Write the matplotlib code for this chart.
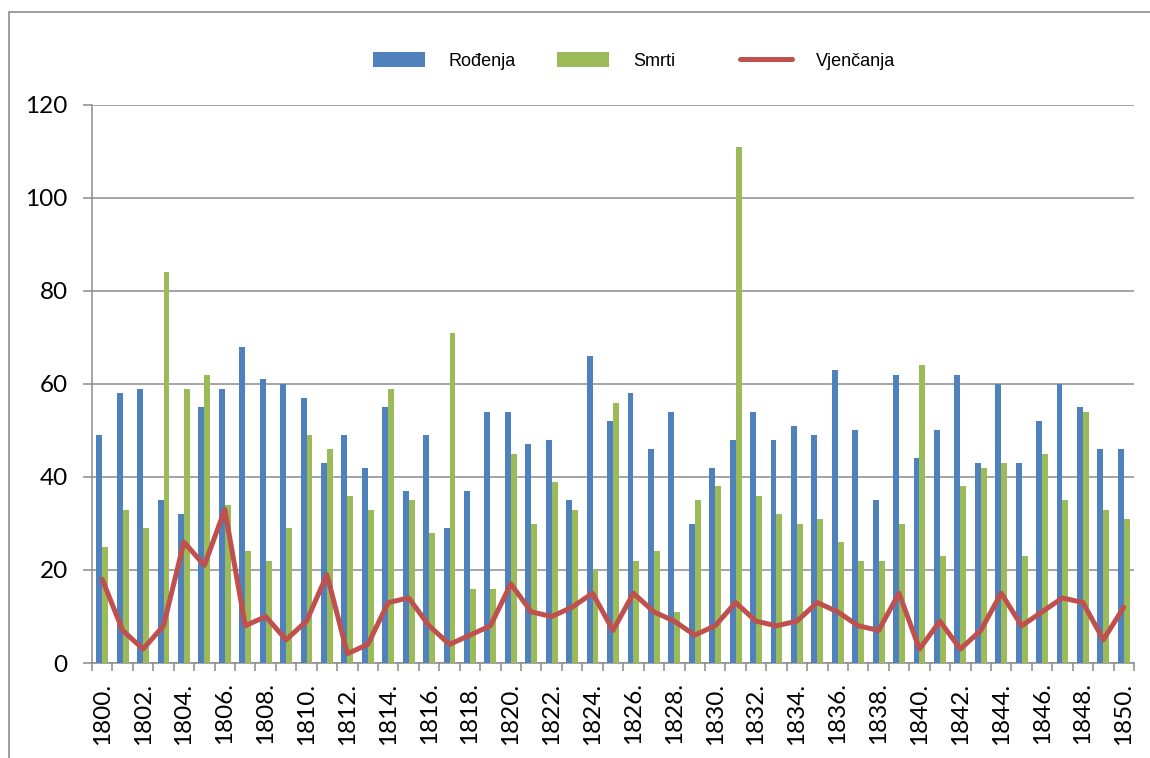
import matplotlib
matplotlib.use("Agg")
import matplotlib.pyplot as plt
import numpy as np
from matplotlib.patches import Rectangle

# godine 1800. - 1850.
years = list(range(1800, 1851))

rodenja = [49, 58, 59, 35, 32, 55, 59, 68, 61, 60, 57, 43, 49, 42, 55, 37, 49,
           29, 37, 54, 54, 47, 48, 35, 66, 52, 58, 46, 54, 30, 42, 48, 54, 48,
           51, 49, 63, 50, 35, 62, 44, 50, 62, 43, 60, 43, 52, 60, 55, 46, 46]
smrti = [25, 33, 29, 84, 59, 62, 34, 24, 22, 29, 49, 46, 36, 33, 59, 35, 28,
         71, 16, 16, 45, 30, 39, 33, 20, 56, 22, 24, 11, 35, 38, 111, 36, 32,
         30, 31, 26, 22, 22, 30, 64, 23, 38, 42, 43, 23, 45, 35, 54, 33, 31]
vjencanja = [18, 7, 3, 8, 26, 21, 33, 8, 10, 5, 9, 19, 2, 4, 13, 14, 8,
             4, 6, 8, 17, 11, 10, 12, 15, 7, 15, 11, 9, 6, 8, 13, 9, 8,
             9, 13, 11, 8, 7, 15, 3, 9, 3, 7, 15, 8, 11, 14, 13, 5, 12]

plava = "#4F81BD"
zelena = "#9BBB59"
crvena = "#C0504D"
siva = "#8C8C8C"

fig = plt.figure(figsize=(11.5, 7.58), dpi=100)
ax = fig.add_axes([92 / 1150, 1 - 663 / 758, (1134 - 92) / 1150, (663 - 105) / 758])

x = np.arange(len(years))
w = 0.29
b1 = ax.bar(x - w / 2, rodenja, w, color=plava, label="Rođenja", zorder=3)
b2 = ax.bar(x + w / 2, smrti, w, color=zelena, label="Smrti", zorder=3)
l1, = ax.plot(x, vjencanja, color=crvena, lw=3.6, solid_joinstyle="round",
              solid_capstyle="round", label="Vjenčanja", zorder=4)

ax.set_xlim(-0.5, len(years) - 0.5)
ax.set_ylim(0, 120)
ax.set_yticks(range(0, 121, 20))
ax.yaxis.grid(True, color=siva, lw=1.1, zorder=0)

# oznake svake druge godine, crtice između kategorija
ax.set_xticks(x[::2])
ax.set_xticklabels([f"{g}." for g in years[::2]], rotation=90)
ax.set_xticks(np.arange(-0.5, len(years)), minor=True)
ax.tick_params(axis="x", which="major", length=0, pad=14)
ax.tick_params(axis="x", which="minor", length=6, width=1.1, color=siva)
ax.tick_params(axis="y", length=6.5, width=1.1, color=siva, pad=11)
for lab in ax.get_xticklabels() + ax.get_yticklabels():
    lab.set_fontfamily("Lato")
    lab.set_fontsize(17.5)

for s in ["top", "right"]:
    ax.spines[s].set_visible(False)
for s in ["left", "bottom"]:
    ax.spines[s].set_color(siva)
    ax.spines[s].set_linewidth(1.1)

# legenda: tri stupca jednake širine
for h, x0 in zip([b1, b2, l1], [373, 557, 740]):
    fig.legend(handles=[h], loc="center left",
               bbox_to_anchor=(x0 / 1150, 1 - 61 / 758),
               frameon=False, prop={"family": "Liberation Sans", "size": 13},
               handlelength=2.9, handleheight=0.9, handletextpad=1.3,
               borderpad=0, borderaxespad=0)

# okvir grafikona
fig.patches.append(Rectangle((9 / 1150, -0.1), 1.1, 1.1 - 12 / 758,
                             transform=fig.transFigure, fill=False,
                             edgecolor=siva, lw=1.2))

fig.savefig("out.png", dpi=100)
